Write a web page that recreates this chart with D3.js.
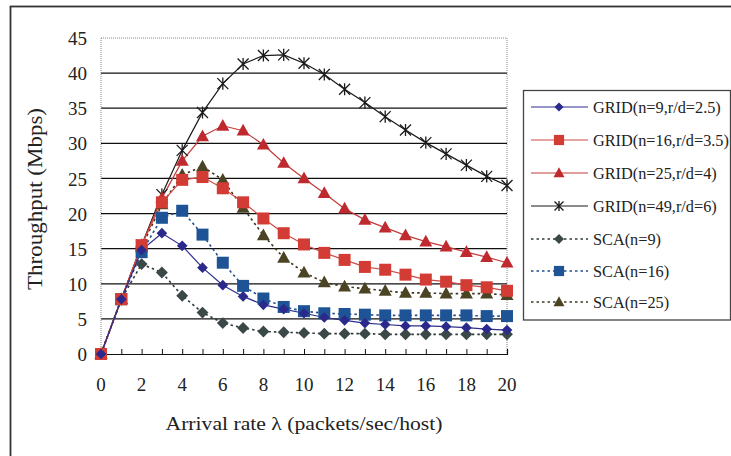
<!DOCTYPE html>
<html><head><meta charset="utf-8">
<script src="https://cdn.jsdelivr.net/npm/d3@7"></script>
<style>html,body{margin:0;padding:0;background:#fff;} svg{display:block;} svg text{font-family:"Liberation Serif","Times New Roman",serif;}</style>
</head><body>
<svg id="c" width="731" height="456"></svg>
<script>
const xValues = d3.range(0, 21);
const grid9  = [0,7.8,14.8,17.2,15.4,12.3,9.8,8.2,7.0,6.4,5.8,5.2,4.8,4.4,4.2,4.0,4.0,3.9,3.75,3.55,3.4];
const grid16 = [0,7.8,15.5,21.6,24.8,25.2,23.6,21.6,19.3,17.2,15.6,14.4,13.4,12.4,12.0,11.3,10.6,10.3,9.8,9.5,9.0];
const grid25 = [0,7.8,15.5,22.2,27.5,31.0,32.5,31.8,29.8,27.2,25.0,22.9,20.7,19.1,18.0,16.9,16.0,15.3,14.5,13.8,13.0];
const grid49 = [0,7.8,15.5,22.7,29.0,34.4,38.5,41.3,42.5,42.6,41.4,39.8,37.7,35.8,33.8,31.9,30.1,28.5,26.9,25.3,24.0];
const sca9   = [0,7.8,12.8,11.6,8.3,5.9,4.4,3.7,3.2,3.1,3.0,2.9,2.9,2.9,2.8,2.8,2.8,2.8,2.8,2.8,2.8];
const sca16  = [0,7.8,14.5,19.4,20.4,17.0,13.0,9.7,7.9,6.7,6.1,5.8,5.7,5.6,5.5,5.5,5.5,5.5,5.5,5.4,5.4];
const sca25  = [0,7.8,15.2,21.3,25.5,26.7,24.8,20.8,16.9,13.7,11.6,10.2,9.6,9.3,9.0,8.7,8.7,8.6,8.6,8.6,8.4];
const seriesNames = ["GRID(n=9,r/d=2.5)","GRID(n=16,r/d=3.5)","GRID(n=25,r/d=4)","GRID(n=49,r/d=6)","SCA(n=9)","SCA(n=16)","SCA(n=25)"];
const xTicks = [0,2,4,6,8,10,12,14,16,18,20];
const yTicks = [0,5,10,15,20,25,30,35,40,45];

const FONT = "Liberation Serif, Times New Roman, serif";
const series = [
  {name:seriesNames[0], values:grid9,  line:"#2E2E8E", fill:"#2B2A8C", marker:"diamond", dash:null, size:9},
  {name:seriesNames[1], values:grid16, line:"#D04A45", fill:"#D23C34", marker:"square", dash:null, size:12},
  {name:seriesNames[2], values:grid25, line:"#C43A3A", fill:"#BF2A2E", marker:"triangle", dash:null, size:13},
  {name:seriesNames[3], values:grid49, line:"#1a1a1a", fill:"#1a1a1a", marker:"star", dash:null, size:11},
  {name:seriesNames[4], values:sca9,   line:"#2f3a3a", fill:"#3B4848", marker:"diamond", dash:"2.5,3", size:10},
  {name:seriesNames[5], values:sca16,  line:"#1E4E8E", fill:"#1E5496", marker:"square", dash:"2.5,3", size:12},
  {name:seriesNames[6], values:sca25,  line:"#3d3820", fill:"#4B4424", marker:"triangle", dash:"2.5,3", size:13}
];

const svg = d3.select("#c");
svg.append("rect").attr("x",10.5).attr("y",6.5).attr("width",760).attr("height",480)
  .attr("fill","none").attr("stroke","#333").attr("stroke-width",1.8);

const x = d3.scaleLinear().domain([0,20]).range([101,507]);
const y = d3.scaleLinear().domain([0,45]).range([354,38]);

svg.append("g").selectAll("line").data(yTicks.filter(t=>t>0 && t<45)).join("line")
  .attr("x1",x(0)).attr("x2",x(20)).attr("y1",d=>y(d)).attr("y2",d=>y(d))
  .attr("stroke","#111").attr("stroke-width",1.2);
const bd = svg.append("g").attr("stroke","#888").attr("stroke-width",1).attr("stroke-dasharray","1,1").attr("fill","none");
bd.append("line").attr("x1",x(0)).attr("x2",x(20)).attr("y1",y(45)).attr("y2",y(45));
bd.append("line").attr("x1",x(0)).attr("x2",x(0)).attr("y1",y(45)).attr("y2",y(0));
bd.append("line").attr("x1",x(20)).attr("x2",x(20)).attr("y1",y(45)).attr("y2",y(0));

const xAxis = d3.axisBottom(x).tickValues(d3.range(0,21)).tickSize(-5).tickFormat("");
const gx = svg.append("g").attr("transform",`translate(0,${y(0)})`).call(xAxis);
gx.select(".domain").attr("stroke","#111").attr("stroke-width",1.2);
gx.selectAll(".tick line").attr("stroke","#111");
svg.append("g").selectAll("text").data(xTicks).join("text")
  .attr("x",d=>x(d)).attr("y",391).attr("text-anchor","middle")
  .attr("font-family",FONT).attr("font-size",19).attr("fill","#222").text(d=>d);
const yAxis = d3.axisLeft(y).tickValues(yTicks).tickSize(0).tickPadding(14);
const gy = svg.append("g").attr("transform",`translate(${x(0)},0)`).call(yAxis).attr("font-family",FONT);
gy.select(".domain").remove();
gy.selectAll("text").attr("font-size",19).attr("fill","#222").attr("font-family",FONT).attr("dy","0.35em");

svg.append("text").attr("x",304).attr("y",430).attr("text-anchor","middle")
  .attr("font-family",FONT).attr("font-size",19).attr("fill","#222")
  .attr("textLength",277).attr("lengthAdjust","spacingAndGlyphs")
  .text("Arrival rate  λ  (packets/sec/host)");
svg.append("text").attr("transform","translate(42,199) rotate(-90)").attr("text-anchor","middle")
  .attr("font-family",FONT).attr("font-size",21).attr("fill","#222")
  .attr("textLength",182).attr("lengthAdjust","spacingAndGlyphs")
  .text("Throughput (Mbps)");

function markerPath(type, s){
  if(type==="diamond") return d3.symbol().type(d3.symbolDiamond2||d3.symbolDiamond).size(s*s*0.9)();
  if(type==="square"){ const h=s/2; return `M${-h},${-h}H${h}V${h}H${-h}Z`; }
  if(type==="triangle"){ const h=s/2; return `M0,${-h*1.05}L${h},${h*0.75}L${-h},${h*0.75}Z`; }
  if(type==="star"){ const h=s/2; return `M${-h},${-h}L${h},${h}M${-h},${h}L${h},${-h}M0,${-h*1.1}V${h*1.1}`; }
}

const line = d3.line().x((d,i)=>x(xValues[i])).y(d=>y(d));
series.slice().reverse().forEach(s=>{
  svg.append("path").datum(s.values).attr("d",line).attr("fill","none")
    .attr("stroke",s.line).attr("stroke-width",s.dash?1.6:1.2)
    .attr("stroke-dasharray",s.dash);
});
function drawMarker(g, s, cx, cy){
  const p = g.append("path").attr("d",markerPath(s.marker,s.size)).attr("transform",`translate(${cx},${cy})`);
  if(s.marker==="star") p.attr("fill","none").attr("stroke",s.fill).attr("stroke-width",1.3);
  else p.attr("fill",s.fill).attr("stroke","none");
}
const mg = svg.append("g");
series.slice().reverse().forEach(s=>{
  s.values.forEach((v,i)=>drawMarker(mg,s,x(xValues[i]),y(v)));
});

svg.append("rect").attr("x",523.5).attr("y",90.5).attr("width",207).attr("height",229.5)
  .attr("fill","#fff").attr("stroke","#444").attr("stroke-width",1.3);
const rowY = [107,140,173,206,239,271,302];
series.forEach((s,i)=>{
  const ry = rowY[i];
  svg.append("line").attr("x1",531).attr("x2",588).attr("y1",ry).attr("y2",ry)
    .attr("stroke",s.line).attr("stroke-width",s.dash?1.6:1.2).attr("stroke-dasharray",s.dash);
  const ls = Object.assign({},s,{size:s.marker==="star"?9:s.size*0.85});
  drawMarker(svg,ls,559,ry);
  svg.append("text").attr("x",593).attr("y",ry+6).attr("font-family",FONT).attr("font-size",16.3).attr("fill","#222").text(s.name);
});
</script>
</body></html>
